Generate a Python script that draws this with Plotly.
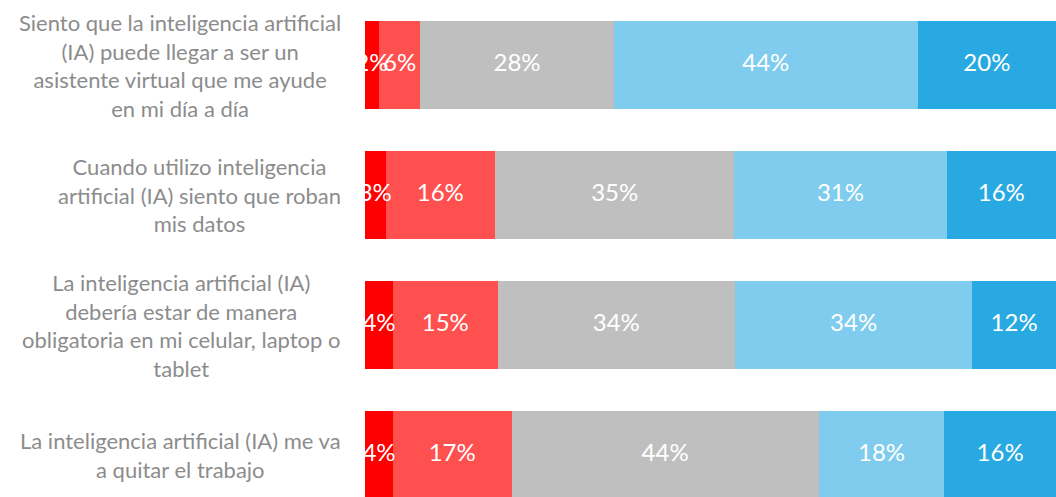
import plotly.graph_objects as go

# Survey statements (top to bottom)
statements = [
    "Siento que la inteligencia artificial<br>(IA) puede llegar a ser un<br>asistente virtual que me ayude<br>en mi día a día",
    "Cuando utilizo inteligencia<br>artificial (IA) siento que roban<br>mis datos",
    "La inteligencia artificial (IA)<br>debería estar de manera<br>obligatoria en mi celular, laptop o<br>tablet",
    "La inteligencia artificial (IA) me va<br>a quitar el trabajo",
]
row_keys = ["asistente", "datos", "obligatoria", "trabajo"]

# Response levels, left to right
levels = [
    "Totalmente en desacuerdo",
    "En desacuerdo",
    "Ni de acuerdo ni en desacuerdo",
    "De acuerdo",
    "Totalmente de acuerdo",
]
level_colors = ["#FF0000", "#FF5050", "#BFBFBF", "#7FCCEE", "#29A9E1"]

# Percent of respondents per level, one list per level (rows in statement order)
totalmente_desacuerdo = [2, 3, 4, 4]
en_desacuerdo = [6, 16, 15, 17]
neutral = [28, 35, 34, 44]
de_acuerdo = [44, 31, 34, 18]
totalmente_acuerdo = [20, 16, 12, 16]
series = [totalmente_desacuerdo, en_desacuerdo, neutral, de_acuerdo, totalmente_acuerdo]

label_font = "Lato, Liberation Sans, sans-serif"

fig = go.Figure()

for name, vals, color in zip(levels, series, level_colors):
    fig.add_trace(go.Bar(
        y=row_keys, x=vals, name=name, orientation="h",
        marker=dict(color=color, line=dict(width=0)),
        hoverinfo="x+name", showlegend=False,
    ))

# Segment labels drawn above all bars, centred on each (row-normalised) segment
row_totals = [sum(s[i] for s in series) for i in range(len(row_keys))]
for i, key in enumerate(row_keys):
    start = 0.0
    xs, txt = [], []
    for vals in series:
        share = vals[i] / row_totals[i] * 100
        xs.append(start + share / 2)
        txt.append(f"{vals[i]}%")
        start += share
    fig.add_trace(go.Scatter(
        x=xs, y=[key] * len(xs), mode="text", text=txt,
        textposition="middle center",
        textfont=dict(family=label_font, size=24, color="white"),
        hoverinfo="skip", showlegend=False, cliponaxis=True,
    ))

# Statement labels, centred lines in a right-aligned block
for key, text in zip(row_keys, statements):
    fig.add_annotation(
        x=-0.0318, xref="paper", y=key, yref="y",
        xanchor="right", yanchor="middle", align="center",
        text=text, showarrow=False,
        font=dict(family=label_font, size=22, color="#8C8C8C"),
    )

fig.update_layout(
    width=1056, height=497,
    margin=dict(l=365, r=0, t=0, b=0),
    barmode="stack", barnorm="percent", bargap=0.323,
    plot_bgcolor="white", paper_bgcolor="white",
    xaxis=dict(range=[0, 100], visible=False, fixedrange=True),
    yaxis=dict(
        type="category", categoryorder="array", categoryarray=row_keys,
        range=[3.323, -0.5], showticklabels=False, showgrid=False,
        zeroline=False, showline=False, ticks="",
    ),
)

fig.write_html("out.html")
